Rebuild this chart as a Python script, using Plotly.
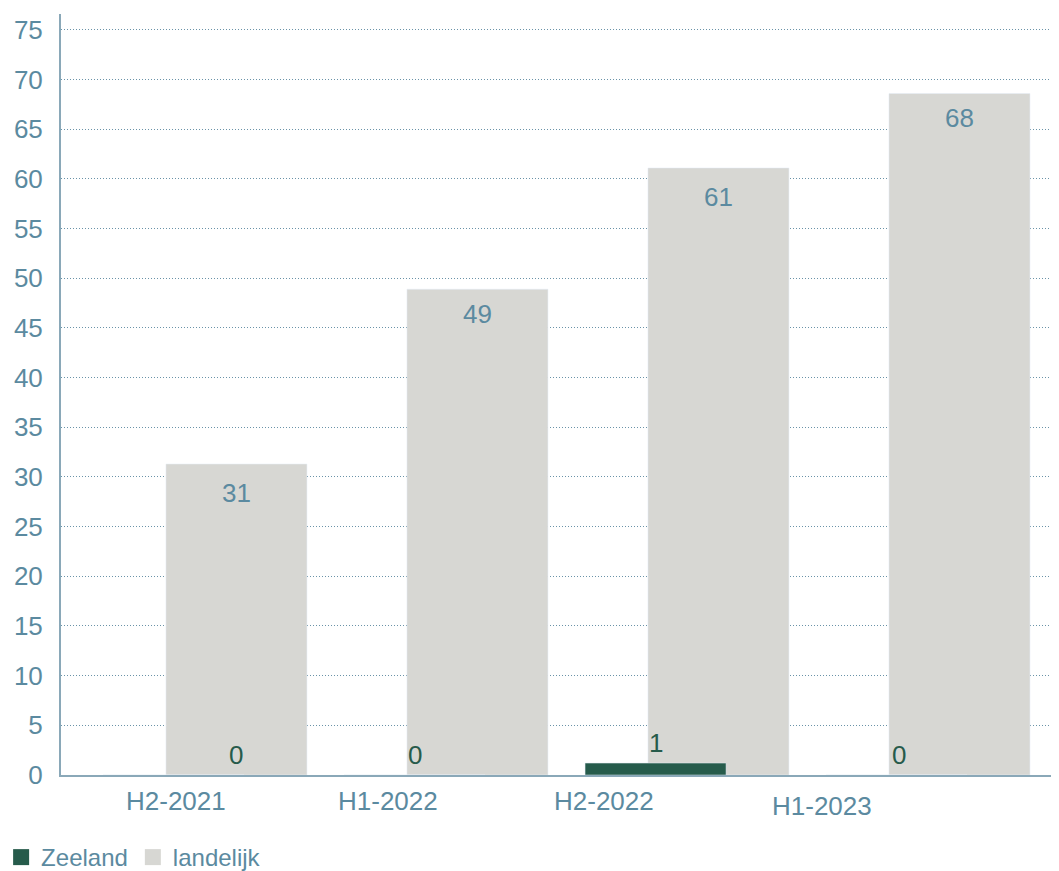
import plotly.graph_objects as go

categories = ["H2-2021", "H1-2022", "H2-2022", "H1-2023"]
zeeland = [0, 0, 1.2, 0]
zeeland_labels = ["0", "0", "1", "0"]
landelijk = [31.3, 48.9, 61.1, 68.6]
landelijk_labels = ["31", "49", "61", "68"]

# layout constants (positions in axis units)
BAR_W = 0.585
Z_OFF = -0.261
zeeland_label_dx = [0.0, -0.26, -0.26, -0.25]
tick_dx = [-0.251, -0.371, -0.475, -0.571]
tick_shift = [-26, -26, -26, -31]
label_shift = [-12, -8, -12, -8]

GREEN = "#265b4b"
GREY = "#d7d7d3"
BLUE = "#5b8aa0"
FONT = "Liberation Sans, Arial, sans-serif"
FS = 26

idx = list(range(len(categories)))

fig = go.Figure()
fig.add_trace(go.Bar(
    x=idx, y=landelijk, name="landelijk", marker_color=GREY,
    width=BAR_W, offset=-BAR_W / 2, showlegend=False, hoverinfo="skip",
))
fig.add_trace(go.Bar(
    x=idx, y=zeeland, name="Zeeland", marker_color=GREEN,
    width=BAR_W, offset=Z_OFF - BAR_W / 2, showlegend=False, hoverinfo="skip",
))
# legend entries with larger square swatches
for name, col in [("Zeeland", GREEN), ("landelijk", GREY)]:
    fig.add_trace(go.Scatter(
        x=[None], y=[None], mode="markers", name=name,
        marker=dict(symbol="square", size=17, color=col),
    ))

annotations = []
for i, (v, t) in enumerate(zip(landelijk, landelijk_labels)):
    annotations.append(dict(x=i, y=v, xref="x", yref="y", text=t, showarrow=False,
                            yanchor="top", yshift=label_shift[i],
                            font=dict(size=FS, color=BLUE, family=FONT)))
for i, (v, t) in enumerate(zip(zeeland, zeeland_labels)):
    annotations.append(dict(x=i + zeeland_label_dx[i], y=v, xref="x", yref="y", text=t,
                            showarrow=False, yanchor="middle", yshift=20,
                            font=dict(size=FS, color=GREEN, family=FONT)))
for i, c in enumerate(categories):
    annotations.append(dict(x=i + tick_dx[i], y=0, xref="x", yref="y", text=c,
                            showarrow=False, yanchor="middle", yshift=tick_shift[i],
                            font=dict(size=FS, color=BLUE, family=FONT)))

fig.update_layout(
    width=1051, height=863,
    margin=dict(l=53, r=0, t=6, b=96, autoexpand=False),
    paper_bgcolor="white", plot_bgcolor="white",
    barmode="overlay",
    font=dict(family=FONT, size=FS, color=BLUE),
    showlegend=True,
    legend=dict(orientation="h", xref="paper", yref="paper",
                x=-0.060, xanchor="left", y=-0.138, yanchor="bottom",
                font=dict(size=24, color=BLUE, family=FONT),
                itemwidth=30, tracegroupgap=0, bgcolor="rgba(0,0,0,0)"),
    annotations=annotations,
)
fig.update_xaxes(
    range=[-0.728, 3.413], showticklabels=False, ticks="", showgrid=False,
    zeroline=False, showline=True, linecolor="#8aa8b8", linewidth=2, automargin=False,
)
fig.update_yaxes(
    range=[0, 76.6], tickvals=list(range(0, 80, 5)), ticks="",
    tickfont=dict(size=FS, color=BLUE, family=FONT), ticklabelstandoff=11,
    showgrid=True, gridcolor="#6a93a8", griddash="1px,2px", gridwidth=1,
    zeroline=False, showline=True, linecolor="#8aa8b8", linewidth=2, automargin=False,
)

fig.write_html("out.html")
